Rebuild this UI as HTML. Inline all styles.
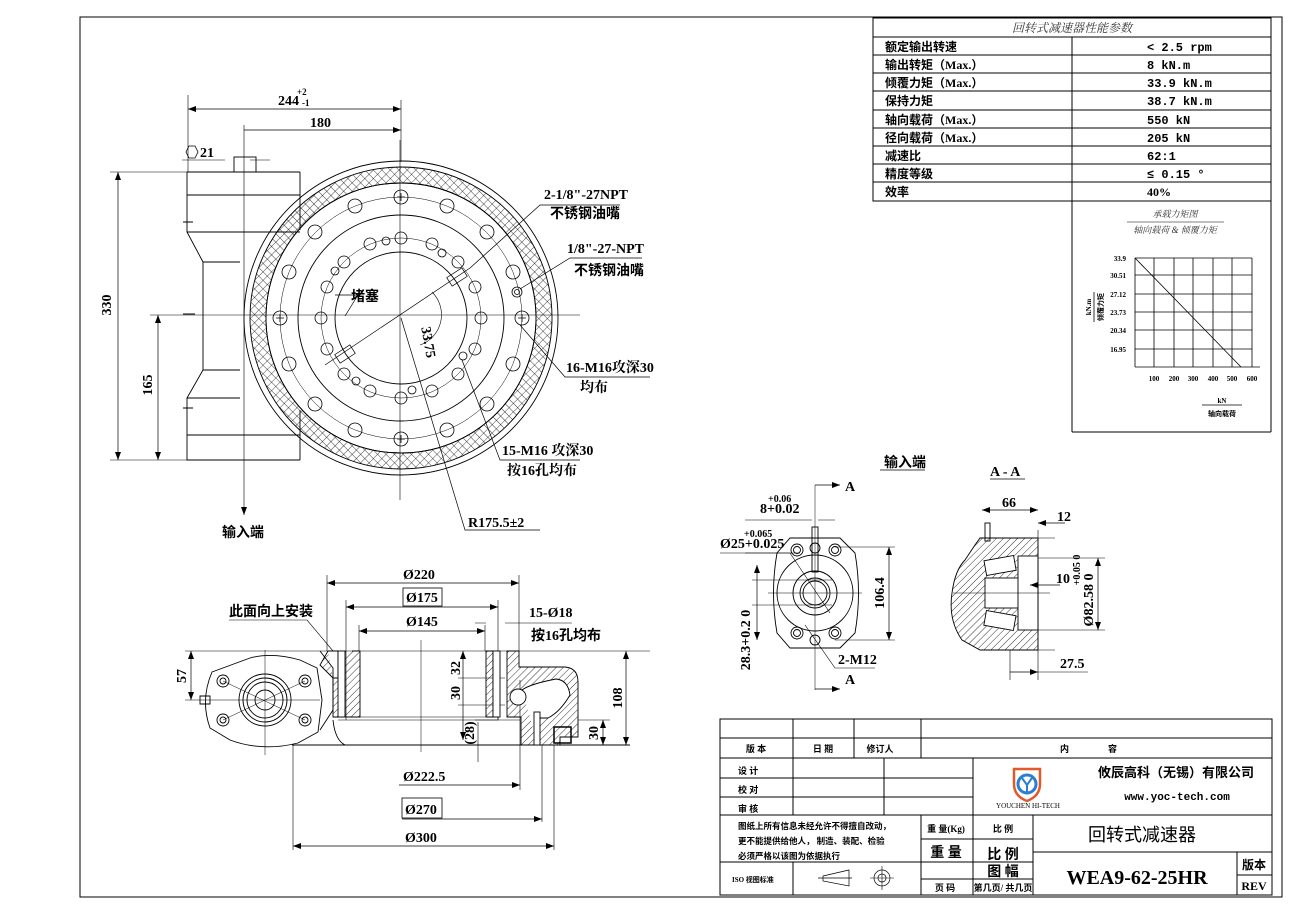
<!DOCTYPE html>
<html><head><meta charset="utf-8"><style>
html,body{margin:0;padding:0;background:#fff;}
svg{display:block;}
.t{font-family:"Liberation Serif","Noto Serif CJK SC",serif;font-weight:bold;fill:#000;}
.c{font-family:"Liberation Serif","Noto Sans CJK SC",sans-serif;font-weight:bold;fill:#000;}
.i{font-family:"Liberation Serif","Noto Serif CJK SC",serif;font-style:italic;fill:#333;}
</style></head><body>
<svg width="1290" height="913" viewBox="0 0 1290 913" xmlns="http://www.w3.org/2000/svg">
<defs>
<pattern id="h" width="5" height="5" patternUnits="userSpaceOnUse" patternTransform="rotate(45)"><line x1="0" y1="0" x2="0" y2="5" stroke="#000" stroke-width="0.8"/></pattern>
<pattern id="x" width="6" height="6" patternUnits="userSpaceOnUse" patternTransform="rotate(45)"><path d="M0 0V6M0 0H6" stroke="#000" stroke-width="0.7"/></pattern>
<marker id="a" markerWidth="8" markerHeight="6" refX="8" refY="3" orient="auto-start-reverse" markerUnits="userSpaceOnUse"><path d="M0 0L8 3L0 6z" fill="#000"/></marker>
</defs>
<g fill="none" stroke="#000" stroke-width="1">
<rect x="80" y="17" width="1202" height="880"/>
<rect x="873" y="18" width="398" height="183"/>
<line x1="873" y1="37" x2="1271" y2="37"/>
<line x1="873" y1="55" x2="1271" y2="55"/><line x1="873" y1="73" x2="1271" y2="73"/>
<line x1="873" y1="91" x2="1271" y2="91"/><line x1="873" y1="110" x2="1271" y2="110"/>
<line x1="873" y1="128" x2="1271" y2="128"/><line x1="873" y1="146" x2="1271" y2="146"/>
<line x1="873" y1="164" x2="1271" y2="164"/><line x1="873" y1="182" x2="1271" y2="182"/>
<line x1="1072" y1="37" x2="1072" y2="432"/>
<line x1="1271" y1="201" x2="1271" y2="432"/><line x1="1072" y1="432" x2="1271" y2="432"/>
<line x1="1127" y1="222" x2="1224" y2="222" stroke-width="0.6"/>
<g stroke-width="0.8">
<line x1="1135" y1="258" x2="1135" y2="367"/><line x1="1135" y1="367" x2="1260" y2="367"/>
<line x1="1135" y1="258" x2="1252" y2="258"/><line x1="1135" y1="275" x2="1252" y2="275"/>
<line x1="1135" y1="294" x2="1252" y2="294"/><line x1="1135" y1="312" x2="1252" y2="312"/>
<line x1="1135" y1="330" x2="1252" y2="330"/><line x1="1135" y1="349" x2="1252" y2="349"/>
<line x1="1154" y1="258" x2="1154" y2="367"/><line x1="1174" y1="258" x2="1174" y2="367"/>
<line x1="1193" y1="258" x2="1193" y2="367"/><line x1="1213" y1="258" x2="1213" y2="367"/>
<line x1="1232" y1="258" x2="1232" y2="367"/><line x1="1252" y1="258" x2="1252" y2="367"/>
<line x1="1135" y1="258" x2="1241" y2="367"/>
<line x1="1202" y1="405" x2="1242" y2="405"/><line x1="1094" y1="292" x2="1094" y2="322"/>
</g>
<rect x="720" y="719" width="552" height="176"/>
<line x1="720" y1="738" x2="1272" y2="738"/><line x1="720" y1="758" x2="1272" y2="758"/>
<line x1="793" y1="719" x2="793" y2="758"/><line x1="854" y1="719" x2="854" y2="758"/><line x1="921" y1="719" x2="921" y2="758"/>
<line x1="720" y1="778" x2="973" y2="778"/><line x1="720" y1="797" x2="973" y2="797"/>
<line x1="720" y1="815" x2="1272" y2="815"/>
<line x1="793" y1="758" x2="793" y2="815"/><line x1="884" y1="758" x2="884" y2="815"/><line x1="973" y1="758" x2="973" y2="895"/>
<line x1="921" y1="815" x2="921" y2="895"/><line x1="1033" y1="815" x2="1033" y2="895"/>
<line x1="921" y1="839" x2="1033" y2="839"/><line x1="720" y1="862" x2="1033" y2="862"/>
<line x1="1033" y1="852" x2="1272" y2="852"/><line x1="921" y1="879" x2="1033" y2="879"/>
<line x1="793" y1="862" x2="793" y2="895"/><line x1="1237" y1="852" x2="1237" y2="895"/><line x1="1237" y1="875" x2="1272" y2="875"/>
<path d="M823 876L849 870V886L823 881Z M818 878H852" stroke-width="0.7"/>
<circle cx="882" cy="878" r="8" stroke-width="0.7"/><circle cx="882" cy="878" r="4" stroke-width="0.7"/><path d="M870 878H894M882 866V890" stroke-width="0.6"/>
<path d="M1014 769H1040V784Q1040 796 1027 801Q1014 796 1014 784Z" stroke="#e05a2b" stroke-width="2.5"/>
<circle cx="1027" cy="784" r="9" stroke="#2a7fd0" stroke-width="3"/>
<path d="M1022 778L1027 785L1032 778M1027 785V792" stroke="#2a7fd0" stroke-width="2"/>

<g stroke-width="0.9">
<path d="M187 172H300M187 172V232L203 262V370L187 398V460H300M187 195H300M187 232H300M187 435H300M187 398H240M203 262H240M203 370H240"/>
<line x1="300" y1="172" x2="300" y2="230"/><line x1="300" y1="410" x2="300" y2="460"/>
<rect x="234" y="157" width="22" height="15"/>
<line x1="244" y1="125" x2="244" y2="490" stroke-width="0.6"/>
<line x1="244" y1="490" x2="244" y2="515" stroke-width="0.6" marker-end="url(#a)"/>
<line x1="150" y1="315" x2="580" y2="315" stroke-width="0.6"/>
<line x1="400" y1="140" x2="400" y2="500" stroke-width="0.6"/>
<path d="M183 222H193M183 314H195M183 408H193" />
<line x1="188" y1="95" x2="188" y2="172" stroke-width="0.6"/>
<line x1="188" y1="109" x2="401" y2="109" stroke-width="0.7" marker-start="url(#a)" marker-end="url(#a)"/>
<line x1="244" y1="130" x2="401" y2="130" stroke-width="0.7" marker-end="url(#a)"/>
<line x1="401" y1="100" x2="401" y2="162" stroke-width="0.6"/>
<path d="M182 160H225M250 160H270" stroke-width="0.6"/>
<polygon points="186,152 189,146 195,146 198,152 195,158 189,158" stroke-width="0.8"/>
<line x1="110" y1="172" x2="187" y2="172" stroke-width="0.6"/>
<line x1="110" y1="460" x2="187" y2="460" stroke-width="0.6"/>
<line x1="118" y1="172" x2="118" y2="460" stroke-width="0.7" marker-start="url(#a)" marker-end="url(#a)"/>
<line x1="158" y1="315" x2="158" y2="460" stroke-width="0.7" marker-start="url(#a)" marker-end="url(#a)"/>
<circle cx="401" cy="318" r="157"/>
<path d="M401 167a151 151 0 1 0 0.01 0ZM401 183a135 135 0 1 1 -0.01 0Z" fill="url(#x)" fill-rule="evenodd"/>
<circle cx="401" cy="318" r="135"/>
<circle cx="401" cy="318" r="121" stroke-width="0.5"/>
<circle cx="401" cy="318" r="103"/>
<circle cx="401" cy="318" r="80" stroke-width="0.5"/>
<circle cx="401" cy="318" r="66"/>
</g>
<g stroke-width="0.8">
<circle cx="401" cy="197" r="7"/><circle cx="447" cy="206" r="7"/><circle cx="487" cy="232" r="7"/><circle cx="513" cy="272" r="7"/>
<circle cx="522" cy="318" r="7"/><circle cx="513" cy="364" r="7"/><circle cx="487" cy="404" r="7"/><circle cx="447" cy="430" r="7"/>
<circle cx="401" cy="439" r="7"/><circle cx="355" cy="430" r="7"/><circle cx="315" cy="404" r="7"/><circle cx="289" cy="364" r="7"/>
<circle cx="280" cy="318" r="7"/><circle cx="289" cy="272" r="7"/><circle cx="315" cy="232" r="7"/><circle cx="355" cy="206" r="7"/>
<circle cx="401" cy="238" r="6"/><circle cx="432" cy="244" r="6"/><circle cx="458" cy="262" r="6"/><circle cx="475" cy="287" r="6"/>
<circle cx="481" cy="318" r="6"/><circle cx="475" cy="349" r="6"/><circle cx="458" cy="374" r="6"/><circle cx="432" cy="391" r="6"/>
<circle cx="401" cy="398" r="6"/><circle cx="370" cy="391" r="6"/><circle cx="344" cy="374" r="6"/><circle cx="327" cy="349" r="6"/>
<circle cx="321" cy="318" r="6"/><circle cx="327" cy="287" r="6"/><circle cx="344" cy="262" r="6"/><circle cx="370" cy="244" r="6"/>
<circle cx="386" cy="241" r="4"/><circle cx="442" cy="253" r="4"/><circle cx="463" cy="356" r="4"/><circle cx="412" cy="390" r="4"/><circle cx="356" cy="381" r="4"/><circle cx="335" cy="271" r="4"/>
<circle cx="517" cy="292" r="5"/><circle cx="517" cy="292" r="2.5"/>
<path d="M276 318H284M280 314V322M397 197H405M401 193V201M397 439H405M401 435V443M518 318H526M522 314V322"/>
</g>
<g stroke-width="0.7">
<line x1="325" y1="365" x2="470" y2="268"/><path d="M470 268L540 205H620" />
<path d="M520 289L570 258H642"/>
<path d="M335 295H358L345 316"/>
<path d="M520 325L565 377H650"/>
<path d="M462 360L500 460H580"/>
<path d="M401 318L465 530H540"/>
<rect x="340" y="345" width="10" height="18" transform="rotate(57 345 354)"/>
<rect x="452" y="268" width="10" height="18" transform="rotate(57 457 277)"/>
<path d="M432 292A32 32 0 0 1 420 345" stroke-width="0.6"/>
</g>

<g stroke-width="0.9">
<line x1="185" y1="651" x2="650" y2="651" stroke-width="0.6"/>
<line x1="292" y1="745" x2="630" y2="745"/>
<line x1="327" y1="575" x2="327" y2="651" stroke-width="0.6"/>
<line x1="519" y1="575" x2="519" y2="651" stroke-width="0.6"/>
<line x1="327" y1="583" x2="519" y2="583" stroke-width="0.7" marker-start="url(#a)" marker-end="url(#a)"/>
<line x1="346" y1="600" x2="346" y2="720" stroke-width="0.6"/>
<line x1="498" y1="600" x2="498" y2="720" stroke-width="0.6"/>
<line x1="346" y1="607" x2="498" y2="607" stroke-width="0.7" marker-start="url(#a)" marker-end="url(#a)"/>
<line x1="359" y1="625" x2="359" y2="651" stroke-width="0.6"/>
<line x1="485" y1="625" x2="485" y2="651" stroke-width="0.6"/>
<line x1="359" y1="631" x2="485" y2="631" stroke-width="0.7" marker-start="url(#a)" marker-end="url(#a)"/>
<path d="M475 623H486M505 623H572" stroke-width="0.6"/>
<line x1="399" y1="785" x2="520" y2="785" stroke-width="0.7" marker-end="url(#a)"/>
<line x1="520" y1="680" x2="520" y2="790" stroke-width="0.6"/>
<line x1="542" y1="745" x2="542" y2="822" stroke-width="0.6"/>
<line x1="402" y1="819" x2="542" y2="819" stroke-width="0.7" marker-end="url(#a)"/>
<line x1="293" y1="745" x2="293" y2="850" stroke-width="0.6"/>
<line x1="554" y1="745" x2="554" y2="850" stroke-width="0.6"/>
<line x1="293" y1="846" x2="554" y2="846" stroke-width="0.7" marker-start="url(#a)" marker-end="url(#a)"/>
<rect x="403" y="588" width="39" height="18" stroke-width="0.8"/>
<rect x="402" y="798" width="40" height="20" stroke-width="0.8"/>
<path d="M229 620H307L333 651" stroke-width="0.6"/>
<line x1="191" y1="651" x2="191" y2="700" stroke-width="0.7" marker-start="url(#a)" marker-end="url(#a)"/>
<line x1="185" y1="700" x2="320" y2="700" stroke-width="0.6"/>
<line x1="626" y1="651" x2="626" y2="745" stroke-width="0.7" marker-start="url(#a)" marker-end="url(#a)"/>
<line x1="603" y1="720" x2="603" y2="745" stroke-width="0.7" marker-start="url(#a)" marker-end="url(#a)"/>
<line x1="578" y1="720" x2="610" y2="720" stroke-width="0.6"/>
<line x1="463" y1="651" x2="463" y2="740" stroke-width="0.7" marker-start="url(#a)" marker-end="url(#a)"/>
<path d="M458 678H505M458 705H505M475 720H520" stroke-width="0.6"/>
<line x1="478" y1="722" x2="478" y2="762" stroke-width="0.6"/>
<line x1="421" y1="640" x2="421" y2="752" stroke-width="0.5"/>
<path d="M328 651H338V678H333V717H360V651H352M486 651H493V717H486ZM507 651H519V667H565Q578 668 578 682V737H560V745H521V717H507V678Z" fill="url(#h)"/>
<path d="M328 651L320 665L333 678" fill="url(#h)"/>
<rect x="338" y="651" width="7" height="66" fill="#fff"/>
<rect x="493" y="651" width="7" height="66" fill="#fff"/>
<path d="M522 690Q530 684 556 679Q568 680 570 695Q560 712 548 718H538V745" fill="#fff"/>
<circle cx="518" cy="697" r="8" fill="#fff"/>
<rect x="534" y="712" width="6" height="33" fill="#fff"/>
<rect x="554" y="727" width="17" height="16" stroke-width="1.5"/>
<path d="M338 717H498V720H338" stroke-width="0.6"/>
<path d="M333 720Q335 740 345 745" />
<path d="M212 672L250 658Q272 652 300 660L317 668L322 700L318 732L298 743Q262 752 230 740L210 728Q200 700 212 672Z"/>
<path d="M320 651L333 668V710L320 730"/>
<circle cx="265" cy="700" r="26"/><circle cx="265" cy="700" r="22"/><circle cx="265" cy="700" r="18"/><circle cx="265" cy="700" r="10"/>
<circle cx="223" cy="681" r="6"/><circle cx="223" cy="681" r="3"/><circle cx="305" cy="681" r="6"/><circle cx="305" cy="681" r="3"/>
<circle cx="223" cy="720" r="6"/><circle cx="223" cy="720" r="3"/><circle cx="305" cy="720" r="6"/><circle cx="305" cy="720" r="3"/>
<path d="M223 681L305 720M305 681L223 720" stroke-width="0.5"/>
<line x1="265" y1="650" x2="265" y2="755" stroke-width="0.5"/>
<path d="M200 696H210V704H200Z" />
</g>

<g stroke-width="0.9">
<path d="M790 538H840L855 553Q862 593 855 633L840 648H790L777 633Q770 593 777 553Z"/>
<circle cx="815" cy="593" r="38"/><circle cx="815" cy="593" r="22"/><circle cx="815" cy="593" r="15"/><circle cx="815" cy="593" r="12"/>
<circle cx="797" cy="550" r="6"/><circle cx="797" cy="550" r="3.5"/><circle cx="835" cy="550" r="6"/><circle cx="835" cy="550" r="3.5"/>
<circle cx="797" cy="633" r="6"/><circle cx="797" cy="633" r="3.5"/><circle cx="835" cy="633" r="6"/><circle cx="835" cy="633" r="3.5"/>
<circle cx="815" cy="548" r="5"/><circle cx="815" cy="640" r="5"/>
<rect x="812" y="527" width="6" height="45"/>
<path d="M815 485V690M768 593H862M752 580H832M752 605H832" stroke-width="0.5"/>
<line x1="815" y1="485" x2="840" y2="485" marker-end="url(#a)" stroke-width="0.7"/>
<line x1="815" y1="689" x2="840" y2="689" marker-end="url(#a)" stroke-width="0.7"/>
<path d="M745 520H812M818 520H835M745 553H800" stroke-width="0.6"/>
<path d="M720 553H790L830 613" stroke-width="0.6"/>
<path d="M835 547H895M835 640H895" stroke-width="0.5"/>
<line x1="889" y1="547" x2="889" y2="640" marker-start="url(#a)" marker-end="url(#a)" stroke-width="0.7"/>
<line x1="757" y1="565" x2="757" y2="640" marker-start="url(#a)" marker-end="url(#a)" stroke-width="0.7"/>
<path d="M805 625L835 668H875" stroke-width="0.6"/>
<line x1="880" y1="470" x2="925" y2="470" stroke-width="0.7"/>
<line x1="990" y1="479" x2="1025" y2="479" stroke-width="0.7"/>
<path d="M980 538H1038V650H980L962 640Q948 620 952 593Q955 570 965 560L975 545Z" fill="url(#h)"/>
<rect x="985" y="578" width="40" height="30" fill="#fff"/>
<rect x="1018" y="556" width="20" height="74" fill="#fff"/>
<rect x="985" y="558" width="30" height="15" fill="#fff" transform="rotate(-10 1000 565)"/>
<rect x="985" y="613" width="30" height="15" fill="#fff" transform="rotate(10 1000 620)"/>
<rect x="985" y="523" width="5" height="18"/>
<path d="M953 593H1050M1038 530V650M1038 538H1055M1038 650H1055" stroke-width="0.6"/>
<line x1="982" y1="510" x2="1038" y2="510" marker-start="url(#a)" marker-end="url(#a)" stroke-width="0.7"/>
<line x1="1038" y1="523" x2="1065" y2="523" marker-start="url(#a)" stroke-width="0.7"/>
<line x1="1030" y1="585" x2="1060" y2="585" marker-start="url(#a)" stroke-width="0.7"/>
<line x1="1038" y1="558" x2="1105" y2="558" stroke-width="0.5"/><line x1="1038" y1="630" x2="1105" y2="630" stroke-width="0.5"/>
<line x1="1098" y1="558" x2="1098" y2="630" marker-start="url(#a)" marker-end="url(#a)" stroke-width="0.7"/>
<line x1="1010" y1="672" x2="1038" y2="672" marker-end="url(#a)" stroke-width="0.7"/>
<path d="M1038 672H1088M1010 650V680M1038 650V680" stroke-width="0.6"/>
</g>
</g>

<g class="i" font-size="12"><text x="1072" y="32" text-anchor="middle">回转式减速器性能参数</text>
<text x="1175" y="217" text-anchor="middle" font-size="9">承载力矩图</text>
<text x="1175" y="233" text-anchor="middle" font-size="9">轴向载荷 &amp; 倾覆力矩</text></g>
<g class="c" font-size="12">
<text x="885" y="51">额定输出转速</text><text x="885" y="69">输出转矩（Max.）</text><text x="885" y="87">倾覆力矩（Max.）</text>
<text x="885" y="105">保持力矩</text><text x="885" y="124">轴向载荷（Max.）</text><text x="885" y="142">径向载荷（Max.）</text>
<text x="885" y="160">减速比</text><text x="885" y="178">精度等级</text><text x="885" y="196">效率</text>
<text x="1147" y="51" font-family="Liberation Mono,monospace">&lt; 2.5 rpm</text><text x="1147" y="69" font-family="Liberation Mono,monospace">8 kN.m</text>
<text x="1147" y="87" font-family="Liberation Mono,monospace">33.9 kN.m</text><text x="1147" y="105" font-family="Liberation Mono,monospace">38.7 kN.m</text>
<text x="1147" y="124" font-family="Liberation Mono,monospace">550 kN</text><text x="1147" y="142" font-family="Liberation Mono,monospace">205 kN</text>
<text x="1147" y="160" font-family="Liberation Mono,monospace">62:1</text><text x="1147" y="178" font-family="Liberation Mono,monospace">≤ 0.15 °</text>
<text x="1147" y="196">40%</text>
</g>
<g class="t" font-size="7">
<text x="1126" y="261" text-anchor="end">33.9</text><text x="1126" y="278" text-anchor="end">30.51</text><text x="1126" y="297" text-anchor="end">27.12</text>
<text x="1126" y="315" text-anchor="end">23.73</text><text x="1126" y="333" text-anchor="end">20.34</text><text x="1126" y="352" text-anchor="end">16.95</text>
<text x="1154" y="381" text-anchor="middle">100</text><text x="1174" y="381" text-anchor="middle">200</text><text x="1193" y="381" text-anchor="middle">300</text>
<text x="1213" y="381" text-anchor="middle">400</text><text x="1232" y="381" text-anchor="middle">500</text><text x="1252" y="381" text-anchor="middle">600</text>
<text x="1222" y="403" text-anchor="middle">kN</text><text x="1222" y="416" text-anchor="middle" class="c">轴向载荷</text>
<text transform="translate(1091 307) rotate(-90)" text-anchor="middle">kN.m</text>
<text transform="translate(1103 307) rotate(-90)" text-anchor="middle" class="c">倾覆力矩</text>
</g>
<g class="c" font-size="9">
<text x="756" y="752" text-anchor="middle">版 本</text><text x="823" y="752" text-anchor="middle">日 期</text><text x="880" y="752" text-anchor="middle">修订人</text>
<text x="1060" y="752">内</text><text x="1108" y="752">容</text>
<text x="738" y="774">设 计</text><text x="738" y="793">校 对</text><text x="738" y="812">审 核</text>
<text x="738" y="829" font-size="8.5">图纸上所有信息未经允许不得擅自改动，</text>
<text x="738" y="844" font-size="8.5">更不能提供给他人，  制造、装配、检验</text>
<text x="738" y="859" font-size="8.5">必须严格以该图为依据执行</text>
<text x="732" y="882" font-size="7">ISO 视图标准</text>
<text x="946" y="832" text-anchor="middle">重 量(Kg)</text><text x="1003" y="832" text-anchor="middle">比 例</text>
<text x="946" y="857" text-anchor="middle" font-size="14">重 量</text><text x="1003" y="859" text-anchor="middle" font-size="14">比 例</text>
<text x="1003" y="876" text-anchor="middle" font-size="14">图 幅</text>
<text x="945" y="891" text-anchor="middle">页 码</text><text x="1003" y="891" text-anchor="middle">第几页/ 共几页</text>
<text x="1254" y="869" text-anchor="middle" font-size="12">版本</text>
<text x="1254" y="890" text-anchor="middle" font-size="12" class="t">REV</text>
<text x="1176" y="777" text-anchor="middle" font-size="13">攸辰高科（无锡）有限公司</text>
<text x="1177" y="800" text-anchor="middle" font-size="11" font-family="Liberation Mono,monospace">www.yoc-tech.com</text>
<text x="1028" y="808" text-anchor="middle" font-size="7" font-weight="normal">YOUCHEN HI-TECH</text>
<text x="1142" y="841" text-anchor="middle" font-size="18" font-weight="normal">回转式减速器</text>
</g>
<text x="1137" y="884" text-anchor="middle" class="t" font-size="20">WEA9-62-25HR</text>

<g class="t" font-size="14">
<text x="278" y="105">244</text><text x="297" y="95" font-size="9">+2</text><text x="302" y="106" font-size="9">-1</text>
<text x="310" y="127">180</text><text x="200" y="157">21</text>
<text transform="translate(111 305) rotate(-90)" text-anchor="middle">330</text>
<text transform="translate(152 385) rotate(-90)" text-anchor="middle">165</text>
<text x="544" y="199">2-1/8"-27NPT</text><text x="567" y="253">1/8"-27-NPT</text>
<text x="566" y="372">16-M16攻深30</text><text x="580" y="392">均布</text>
<text x="502" y="455">15-M16 攻深30</text><text x="507" y="475">按16孔均布</text>
<text x="468" y="527">R175.5±2</text>
<text transform="translate(424 343) rotate(80)" text-anchor="middle">33.75</text>
<text x="351" y="301" class="c">堵塞</text><text x="222" y="537" class="c">输入端</text>
<text x="550" y="218" class="c">不锈钢油嘴</text><text x="574" y="275" class="c">不锈钢油嘴</text>
<text x="403" y="579">Ø220</text><text x="406" y="602">Ø175</text><text x="406" y="626">Ø145</text>
<text x="529" y="617">15-Ø18</text><text x="531" y="640" class="c">按16孔均布</text>
<text x="229" y="616" class="c">此面向上安装</text>
<text transform="translate(186 676) rotate(-90)" text-anchor="middle">57</text>
<text transform="translate(622 698) rotate(-90)" text-anchor="middle">108</text>
<text transform="translate(598 733) rotate(-90)" text-anchor="middle">30</text>
<text transform="translate(460 668) rotate(-90)" text-anchor="middle">32</text>
<text transform="translate(460 693) rotate(-90)" text-anchor="middle">30</text>
<text transform="translate(474 733) rotate(-90)" text-anchor="middle">(28)</text>
<text x="403" y="781">Ø222.5</text><text x="405" y="814">Ø270</text><text x="405" y="842">Ø300</text>
<text x="884" y="467" class="c">输入端</text><text x="990" y="476">A - A</text>
<text x="845" y="491">A</text><text x="845" y="684">A</text>
<text x="760" y="513">8+0.02</text><text x="768" y="502" font-size="10">+0.06</text>
<text x="720" y="548">Ø25+0.025</text><text x="744" y="537" font-size="10">+0.065</text>
<text transform="translate(884 593) rotate(-90)" text-anchor="middle">106.4</text>
<text transform="translate(750 640) rotate(-90)" text-anchor="middle">28.3+0.2 0</text>
<text x="838" y="664">2-M12</text>
<text x="1002" y="507">66</text><text x="1057" y="521">12</text>
<text x="1056" y="583">10</text>
<text transform="translate(1080 570) rotate(-90)" text-anchor="middle" font-size="10">+0.05 0</text>
<text transform="translate(1093 600) rotate(-90)" text-anchor="middle">Ø82.58 0</text>
<text x="1060" y="668">27.5</text>
</g>
</svg>
</body></html>
